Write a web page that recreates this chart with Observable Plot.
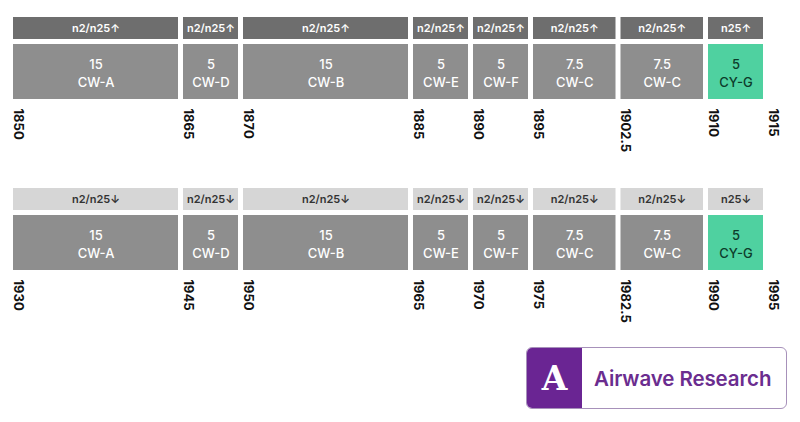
<!DOCTYPE html>
<html>
<head>
<meta charset="utf-8">
<script src="https://cdn.jsdelivr.net/npm/d3@7"></script>
<script src="https://cdn.jsdelivr.net/npm/@observablehq/plot@0.6"></script>
<style>
  html, body { margin: 0; padding: 0; background: #fff; }
  body { width: 800px; height: 422px; position: relative; overflow: hidden; font-family: Inter, sans-serif; }
  #chart svg { display: block; }
  .logo { position: absolute; left: 526px; top: 347px; width: 259px; height: 60px;
          border: 1px solid #a791ba; border-radius: 6px; display: flex; align-items: center; overflow: hidden; background: #fff; }
  .logo .mark { width: 55px; height: 100%; background: #6a2593; color: #fff; display: flex; align-items: center; justify-content: center;
          font-family: "DejaVu Serif", "Liberation Serif", serif; font-weight: bold; font-size: 33px; }
  .logo .name { margin-left: 12px; color: #6b2d8f; font-family: Inter, sans-serif; font-weight: 600; font-size: 20.5px; letter-spacing: -0.1px; }
</style>
</head>
<body>
<div id="chart"></div>
<div class="logo"><div class="mark">A</div><div class="name">Airwave Research</div></div>
<script>
// ---- data ----
const bandNames  = ["CW-A", "CW-D", "CW-B", "CW-E", "CW-F", "CW-C", "CW-C", "CY-G"];
const bandWidths = [15, 5, 15, 5, 5, 7.5, 7.5, 5];
const bandUsers  = ["n2/n25", "n2/n25", "n2/n25", "n2/n25", "n2/n25", "n2/n25", "n2/n25", "n25"];
const uplinkStart = 1850;
const downlinkStart = 1930;
const highlighted = ["CY-G"];

// ---- styling ----
const W = 800, H = 171;
const mLeft = 13, mRight = 32, gap = 5;

function makeBlocks(start) {
  let cur = start;
  return bandNames.map((name, i) => {
    const b = {name, width: bandWidths[i], users: bandUsers[i], start: cur, end: cur + bandWidths[i], hi: highlighted.includes(name)};
    cur += bandWidths[i];
    return b;
  });
}

function makeChart(start, arrow, headFill, headText) {
  const blocks = makeBlocks(start);
  const bounds = [start, ...blocks.map(d => d.end)];
  const total = bounds[bounds.length - 1] - start;
  const k = (W - mLeft - mRight - gap * blocks.length) / total;
  const range = bounds.map((b, i) => mLeft + (b - start) * k + i * gap);
  return Plot.plot({
    width: W, height: H,
    marginTop: 17, marginBottom: 72, marginLeft: mLeft, marginRight: mRight,
    style: {fontFamily: "Inter, sans-serif", background: "transparent"},
    x: {type: "linear", domain: bounds, range, axis: null},
    y: {type: "band", domain: ["header", "block"], padding: 0, axis: null},
    marks: [
      Plot.barX(blocks, {x1: "start", x2: "end", y: () => "header", fill: headFill, insetRight: gap, insetBottom: 19}),
      Plot.text(blocks, {x: d => (d.start + d.end) / 2, y: () => "header", dx: -gap / 2, dy: -9.5,
        text: d => d.users + arrow, fill: headText, fontSize: 11, fontWeight: 600}),
      Plot.barX(blocks, {x1: "start", x2: "end", y: () => "block", fill: d => d.hi ? "#4fd1a0" : "#8e8e8e", insetRight: gap, insetTop: -14}),
      Plot.text(blocks, {x: d => (d.start + d.end) / 2, y: () => "block", dx: -gap / 2, dy: -7,
        text: d => d.width + "\n" + d.name, fill: d => d.hi ? "#0d3b2b" : "#ffffff", fontSize: 13, fontWeight: 500, lineHeight: 1.4}),
      Plot.text(bounds, {x: d => d, frameAnchor: "bottom", dy: 9, rotate: 90, textAnchor: "start", lineAnchor: "bottom",
        text: d => String(d), fill: "#111", fontSize: 13, fontWeight: 700})
    ]
  });
}

const root = document.getElementById("chart");
root.appendChild(makeChart(uplinkStart, "\u2191", "#6e6e6e", "#ffffff"));
root.appendChild(makeChart(downlinkStart, "\u2193", "#d6d6d6", "#333333"));
</script>
</body>
</html>
